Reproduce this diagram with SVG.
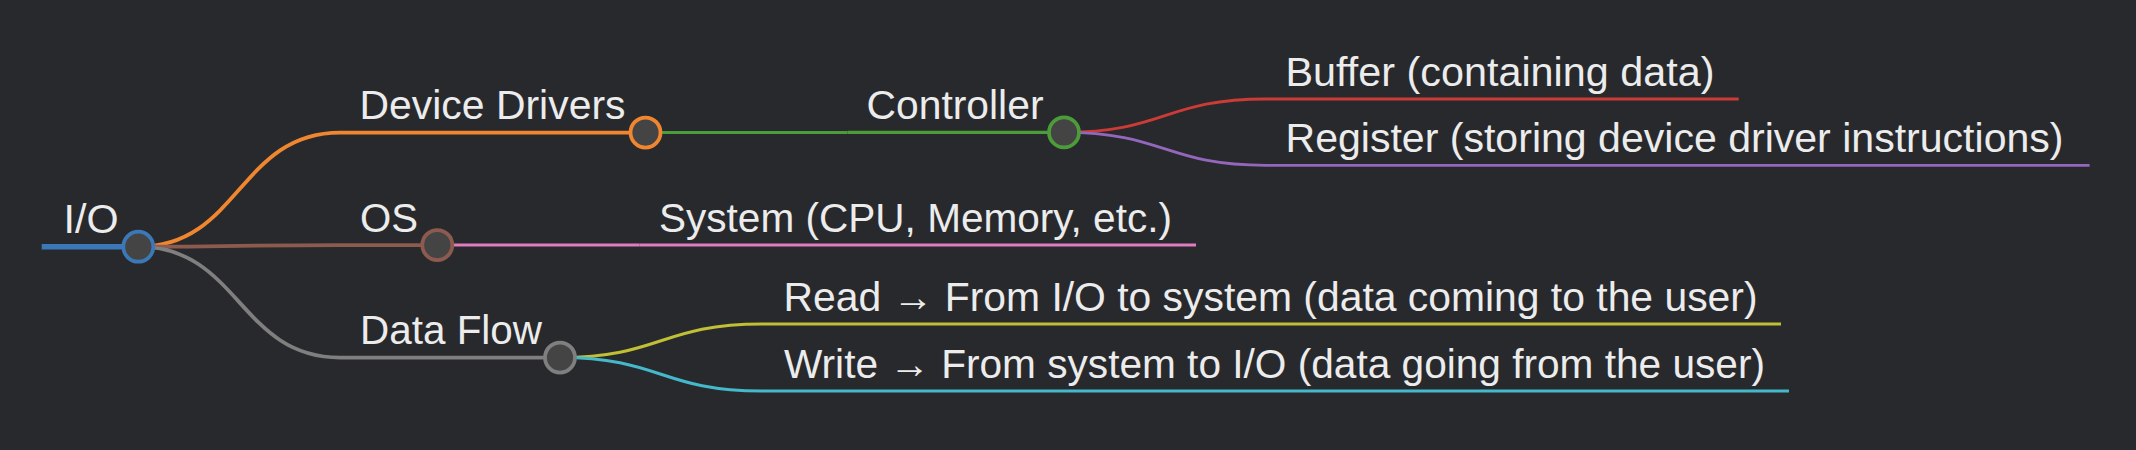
<svg xmlns="http://www.w3.org/2000/svg" width="2136" height="450" viewBox="0 0 2136 450">
<style>
.bg{fill:#28292c}
.lnk{fill:none;stroke-linecap:butt}
.ul{fill:none}
.dot{fill:#444444;stroke-width:3.75}
.lbl{font-family:"Liberation Sans",Arial,Helvetica,sans-serif;font-size:40px;fill:#ececec}
.d1{stroke-width:3.75}
.d2{stroke-width:3.1}
.d3{stroke-width:2.8}
</style>
<rect class="bg" x="0" y="0" width="2136" height="450"/>
<g id="connectors">
<path class="lnk d1" stroke="#f0862f" d="M138.3,246.7 C239.2,246.7 239.2,132.5 340,132.5"/>
<path class="lnk d1" stroke="#8c5a4e" d="M138.3,246.7 C239.2,246.7 239.2,245 340,245"/>
<path class="lnk d1" stroke="#7f7f7f" d="M138.3,246.7 C239.2,246.7 239.2,357.5 340,357.5"/>
<path class="lnk d2" stroke="#4c9c3a" d="M645.5,132.5 L847.5,132.5"/>
<path class="lnk d2" stroke="#e07cc0" d="M437.3,245 L639.3,245"/>
<path class="lnk d2" stroke="#c0bf35" d="M560,357.5 C661,357.5 661,324 762,324"/>
<path class="lnk d2" stroke="#45b9cc" d="M560,357.5 C661,357.5 661,391 762,391"/>
<path class="lnk d3" stroke="#cc3b36" d="M1064,132.4 C1165,132.4 1165,99 1266,99"/>
<path class="lnk d3" stroke="#9467bd" d="M1064,132.4 C1165,132.4 1165,165.3 1266,165.3"/>
</g>
<g id="node-system">
<path class="ul d2" stroke="#e07cc0" d="M639.3,245 L1196,245"/>
<text class="lbl" x="659" y="231.5" textLength="513" lengthAdjust="spacingAndGlyphs">System (CPU, Memory, etc.)</text>
</g>
<g id="node-buffer">
<path class="ul d3" stroke="#cc3b36" d="M1266,99 L1738.7,99"/>
<text class="lbl" x="1285.5" y="85.8" textLength="429" lengthAdjust="spacingAndGlyphs">Buffer (containing data)</text>
</g>
<g id="node-register">
<path class="ul d3" stroke="#9467bd" d="M1266,165.3 L2089.6,165.3"/>
<text class="lbl" x="1285.5" y="152" textLength="778" lengthAdjust="spacingAndGlyphs">Register (storing device driver instructions)</text>
</g>
<g id="node-read">
<path class="ul d2" stroke="#c0bf35" d="M762,324 L1781,324"/>
<text class="lbl" x="783.5" y="310.8" textLength="974" lengthAdjust="spacingAndGlyphs">Read → From I/O to system (data coming to the user)</text>
</g>
<g id="node-write">
<path class="ul d2" stroke="#45b9cc" d="M762,391 L1789,391"/>
<text class="lbl" x="784" y="377.8" textLength="981" lengthAdjust="spacingAndGlyphs">Write → From system to I/O (data going from the user)</text>
</g>
<g id="node-controller">
<path class="ul d2" stroke="#4c9c3a" d="M847.5,132.4 L1064,132.4"/>
<circle class="dot" cx="1064" cy="132.4" r="15" stroke="#4c9c3a"/>
<text class="lbl" x="866.5" y="119.2" textLength="177" lengthAdjust="spacingAndGlyphs">Controller</text>
</g>
<g id="node-device-drivers">
<path class="ul d1" stroke="#f0862f" d="M340,132.5 L645.5,132.5"/>
<circle class="dot" cx="645.5" cy="132.5" r="15" stroke="#f0862f"/>
<text class="lbl" x="359.5" y="119.3" textLength="266" lengthAdjust="spacingAndGlyphs">Device Drivers</text>
</g>
<g id="node-os">
<path class="ul d1" stroke="#8c5a4e" d="M340,245 L437.3,245"/>
<circle class="dot" cx="437.3" cy="245" r="15" stroke="#8c5a4e"/>
<text class="lbl" x="360" y="231.7" textLength="58" lengthAdjust="spacingAndGlyphs">OS</text>
</g>
<g id="node-data-flow">
<path class="ul d1" stroke="#7f7f7f" d="M340,357.5 L560,357.5"/>
<circle class="dot" cx="560" cy="357.5" r="15" stroke="#7f7f7f"/>
<text class="lbl" x="360" y="344.2" textLength="182" lengthAdjust="spacingAndGlyphs">Data Flow</text>
</g>
<g id="node-io">
<path class="ul" stroke="#3b78b8" stroke-width="5.5" d="M41.7,246.7 L138.3,246.7"/>
<circle class="dot" cx="138.3" cy="246.7" r="15" stroke="#3b78b8"/>
<text class="lbl" x="63.5" y="233" textLength="55" lengthAdjust="spacingAndGlyphs">I/O</text>
</g>
</svg>
